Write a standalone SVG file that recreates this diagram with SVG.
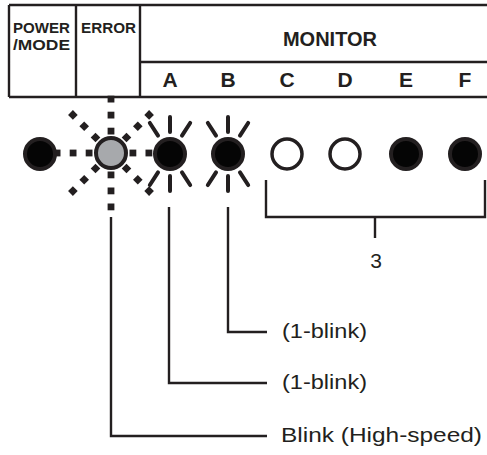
<svg xmlns="http://www.w3.org/2000/svg" xmlns:xlink="http://www.w3.org/1999/xlink" width="487" height="455" viewBox="0 0 487 455">
<style>
.ln{fill:none;stroke:#231f20;stroke-width:2.4}
.hd{font-family:"Liberation Sans",Arial,sans-serif;font-weight:bold;fill:#231f20}
.lb{font-family:"Liberation Sans",Arial,sans-serif;fill:#231f20;font-size:21px}
.on{fill:#050505;stroke:#231f20;stroke-width:4}
.off{fill:#fff;stroke:#231f20;stroke-width:3.5}
.err{fill:#a7a9ac;stroke:#231f20;stroke-width:4}
.ray{stroke:#231f20;stroke-width:4;stroke-linecap:round}
.sq{fill:#231f20}
</style>
<defs>
<g id="dash">
<rect class="sq" x="18.5" y="-3.4" width="6.8" height="6.8"/>
<rect class="sq" x="34.5" y="-3.4" width="6.8" height="6.8"/>
<rect class="sq" x="50.5" y="-3.4" width="6.8" height="6.8"/>
</g>
<line id="ray" class="ray" x1="22" y1="0" x2="37" y2="0"/>
</defs>
<g id="header">
<path class="ln" d="M9,5 H487 M9,5 V97 M76,5 V97 M140,5 V97 M140,62 H487 M9,97 H487"/>
<text class="hd" x="13" y="33" font-size="14.5" textLength="57" lengthAdjust="spacingAndGlyphs">POWER</text>
<text class="hd" x="13" y="49.5" font-size="14.5" textLength="57" lengthAdjust="spacingAndGlyphs">/MODE</text>
<text class="hd" x="81" y="33" font-size="14.5" textLength="55" lengthAdjust="spacingAndGlyphs">ERROR</text>
<text class="hd" x="330" y="46" font-size="20" text-anchor="middle">MONITOR</text>
<g font-size="21" text-anchor="middle">
<text class="hd" x="170" y="87">A</text>
<text class="hd" x="228" y="87">B</text>
<text class="hd" x="287" y="87">C</text>
<text class="hd" x="345" y="87">D</text>
<text class="hd" x="406" y="87">E</text>
<text class="hd" x="465" y="87">F</text>
</g>
</g>
<g id="error-rays">
<use xlink:href="#dash" transform="translate(111,153) rotate(0)"/>
<use xlink:href="#dash" transform="translate(111,153) rotate(45)"/>
<use xlink:href="#dash" transform="translate(111,153) rotate(90)"/>
<use xlink:href="#dash" transform="translate(111,153) rotate(135)"/>
<use xlink:href="#dash" transform="translate(111,153) rotate(180)"/>
<use xlink:href="#dash" transform="translate(111,153) rotate(225)"/>
<use xlink:href="#dash" transform="translate(111,153) rotate(270)"/>
<use xlink:href="#dash" transform="translate(111,153) rotate(315)"/>
</g>
<g id="blink-rays-A">
<use xlink:href="#ray" transform="translate(170,154) rotate(-123)"/>
<use xlink:href="#ray" transform="translate(170,154) rotate(-90)"/>
<use xlink:href="#ray" transform="translate(170,154) rotate(-57)"/>
<use xlink:href="#ray" transform="translate(170,154) rotate(57)"/>
<use xlink:href="#ray" transform="translate(170,154) rotate(90)"/>
<use xlink:href="#ray" transform="translate(170,154) rotate(123)"/>
</g>
<g id="blink-rays-B">
<use xlink:href="#ray" transform="translate(228,154) rotate(-123)"/>
<use xlink:href="#ray" transform="translate(228,154) rotate(-90)"/>
<use xlink:href="#ray" transform="translate(228,154) rotate(-57)"/>
<use xlink:href="#ray" transform="translate(228,154) rotate(57)"/>
<use xlink:href="#ray" transform="translate(228,154) rotate(90)"/>
<use xlink:href="#ray" transform="translate(228,154) rotate(123)"/>
</g>
<g id="led-power"><circle class="on" cx="40" cy="154" r="15"/></g>
<g id="led-error"><circle class="err" cx="111" cy="153" r="15"/></g>
<g id="led-A"><circle class="on" cx="170" cy="154" r="15"/></g>
<g id="led-B"><circle class="on" cx="228" cy="154" r="15"/></g>
<g id="led-C"><circle class="off" cx="287" cy="154" r="15"/></g>
<g id="led-D"><circle class="off" cx="345" cy="154" r="15"/></g>
<g id="led-E"><circle class="on" cx="406" cy="154" r="15"/></g>
<g id="led-F"><circle class="on" cx="465" cy="154" r="15"/></g>
<g id="connectors">
<path class="ln" d="M266,180 V217 H485 V180 M375,217 V238"/>
<path class="ln" d="M228,207 V332 H267"/>
<path class="ln" d="M169,207 V383 H267"/>
<path class="ln" d="M111,217 V436 H267"/>
</g>
<g id="labels">
<text class="lb" x="376" y="268" text-anchor="middle">3</text>
<text class="lb" x="282" y="338" textLength="85" lengthAdjust="spacingAndGlyphs">(1-blink)</text>
<text class="lb" x="282" y="389" textLength="85" lengthAdjust="spacingAndGlyphs">(1-blink)</text>
<text class="lb" x="281" y="442" textLength="201" lengthAdjust="spacingAndGlyphs">Blink (High-speed)</text>
</g>
</svg>
